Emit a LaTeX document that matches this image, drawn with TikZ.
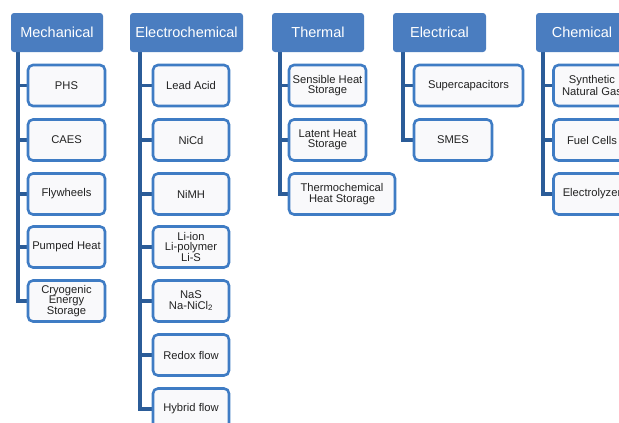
\documentclass[tikz,border=0pt]{standalone}
\usepackage{fontspec}
\setmainfont{Liberation Sans}
\usetikzlibrary{backgrounds}
\definecolor{hdrfill}{HTML}{4A7DC0}
\definecolor{trunkc}{HTML}{2B5C98}
\definecolor{boxline}{HTML}{3F7CC4}
\definecolor{boxfill}{HTML}{F9F9FB}
\definecolor{txt}{HTML}{222222}
\tikzset{
  hdr/.style={fill=hdrfill, draw=none, rounded corners=3pt, text=white,
    minimum height=39pt, inner sep=0pt, font=\fontsize{14.5}{16}\selectfont},
  leaf/.style={fill=boxfill, draw=boxline, line width=2.6pt, rounded corners=5pt,
    text=txt, minimum height=41pt, inner sep=0pt, align=center,
    font=\fontsize{11.2}{10.3}\selectfont},
  trunk/.style={draw=trunkc, line width=3.5pt},
}
\begin{document}
\begin{tikzpicture}[x=1pt,y=-1pt]
\useasboundingbox (0,0) rectangle (619,423);
\clip (0,0) rectangle (619,423);
% headers
\node[hdr, minimum width=92pt]  (h1) at (57,32.5)   {Mechanical};
\node[hdr, minimum width=113pt] (h2) at (186.5,32.5) {Electrochemical};
\node[hdr, minimum width=92pt]  (h3) at (318,32.5)  {Thermal};
\node[hdr, minimum width=93pt]  (h4) at (439.5,32.5) {Electrical};
\node[hdr, minimum width=92pt]  (h5) at (582,32.5)  {Chemical};
% Mechanical
\node[leaf, minimum width=77pt] (m1) at (66.5,85.5) {PHS};
\node[leaf, minimum width=77pt] (m2) at (66.5,140)  {CAES};
\node[leaf, minimum width=77pt] (m3) at (66.5,194)  {Flywheels};
\node[leaf, minimum width=77pt] (m4) at (66.5,247)  {Pumped Heat};
\node[leaf, minimum width=77pt] (m5) at (66.5,301)  {Cryogenic\\Energy\\Storage};
% Electrochemical
\node[leaf, minimum width=76pt] (e1) at (191,85.5) {Lead Acid};
\node[leaf, minimum width=76pt] (e2) at (191,140)  {NiCd};
\node[leaf, minimum width=76pt] (e3) at (191,194)  {NiMH};
\node[leaf, minimum width=76pt] (e4) at (191,247)  {Li-ion\\Li-polymer\\Li-S};
\node[leaf, minimum width=76pt] (e5) at (191,301)  {NaS\\Na-NiCl\textsubscript{2}};
\node[leaf, minimum width=76pt] (e6) at (191,355)  {Redox flow};
\node[leaf, minimum width=76pt] (e7) at (191,409)  {Hybrid flow};
% Thermal
\node[leaf, minimum width=77pt]  (t1) at (327.5,85.5) {Sensible Heat\\Storage};
\node[leaf, minimum width=77pt]  (t2) at (327.5,140)  {Latent Heat\\Storage};
\node[leaf, minimum width=106pt] (t3) at (342,194)    {Thermochemical\\Heat Storage};
% Electrical
\node[leaf, minimum width=109pt] (l1) at (468.5,85.5) {Supercapacitors};
\node[leaf, minimum width=78pt]  (l2) at (453,140)    {SMES};
% Chemical
\node[leaf, minimum width=77pt] (c1) at (592,85.5) {Synthetic\\Natural Gas};
\node[leaf, minimum width=77pt] (c2) at (592,140)  {Fuel Cells};
\node[leaf, minimum width=77pt] (c3) at (592,194)  {Electrolyzer};
% connectors
\begin{scope}[on background layer]
\coordinate (tm) at ([xshift=7pt]h1.south west);
\coordinate (te) at ([xshift=10pt]h2.south west);
\coordinate (tt) at ([xshift=8pt]h3.south west);
\coordinate (tl) at ([xshift=10pt]h4.south west);
\coordinate (tc) at ([xshift=7pt]h5.south west);
\draw[trunk] (tm) |- (m5.west);
\foreach \n in {m1,m2,m3,m4} \draw[trunk] (tm |- \n.west) -- (\n.west);
\draw[trunk] (te) |- (e7.west);
\foreach \n in {e1,e2,e3,e4,e5,e6} \draw[trunk] (te |- \n.west) -- (\n.west);
\draw[trunk] (tt) |- (t3.west);
\foreach \n in {t1,t2} \draw[trunk] (tt |- \n.west) -- (\n.west);
\draw[trunk] (tl) |- (l2.west);
\draw[trunk] (tl |- l1.west) -- (l1.west);
\draw[trunk] (tc) |- (c3.west);
\foreach \n in {c1,c2} \draw[trunk] (tc |- \n.west) -- (\n.west);
\end{scope}
\end{tikzpicture}
\end{document}
